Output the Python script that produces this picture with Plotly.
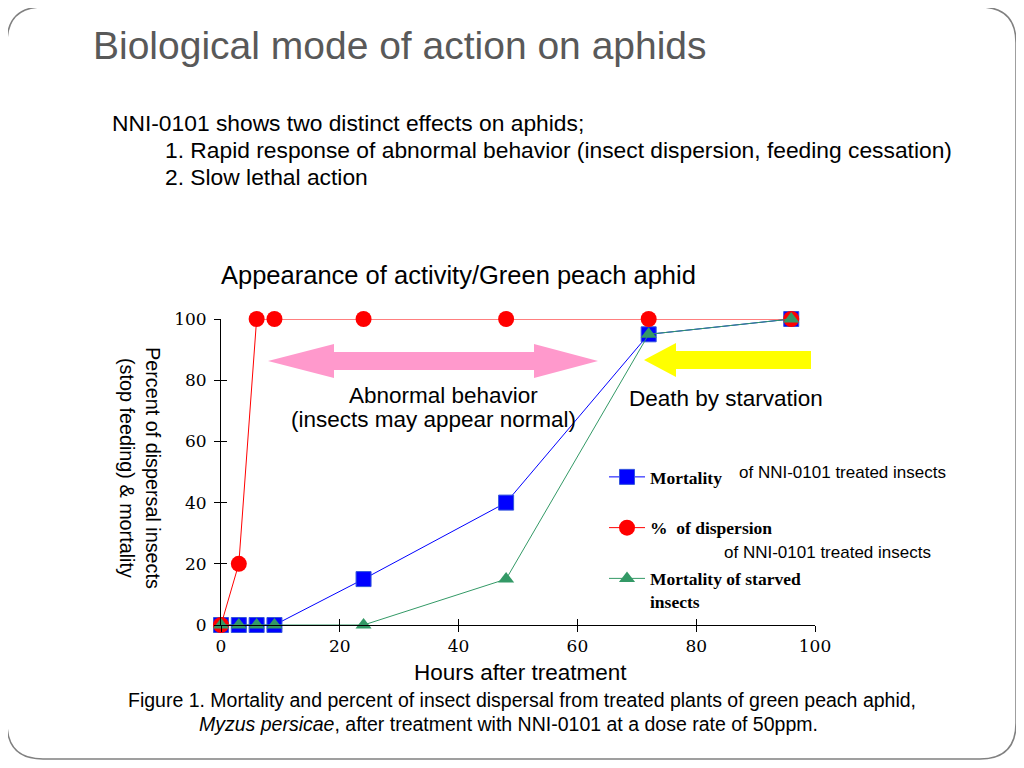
import plotly.graph_objects as go

# ---------------- data ----------------
hours = [0, 3, 6, 9, 24, 48, 72, 96]
mortality = [0, 0, 0, 0, 15, 40, 95, 100]
dispersion = [0, 20, 100, 100, 100, 100, 100, 100]
starved = [0, 0, 0, 0, 0, 15, 95, 100]
tick_vals = [0, 20, 40, 60, 80, 100]
series_names = ["<b>Mortality</b>", "<b>%  of dispersion</b>", "<b>Mortality of starved<br>insects</b>"]

OFF = 8  # page body margin in the browser
W, H = 1024 - OFF, 768 - OFF
L, R, T, B = 221, 815, 319, 625  # plot area in screenshot pixels


def xp(px):
    return (px - L) / (R - L)


def yp(py):
    return (B - py) / (B - T)


fig = go.Figure()

fig.add_trace(go.Scatter(
    x=hours, y=mortality, name=series_names[0], mode="lines+markers",
    line=dict(color="#0000FF", width=1),
    marker=dict(symbol="square", size=15, color="#0000FF", line=dict(color="#3355DD", width=1)),
    cliponaxis=False, legendgroup="a"))
fig.add_trace(go.Scatter(
    x=hours, y=dispersion, name=series_names[1], mode="lines+markers",
    line=dict(color="#FF0000", width=1),
    marker=dict(symbol="circle", size=16, color="#FF0000"),
    cliponaxis=False, legendgroup="b"))
fig.add_trace(go.Scatter(
    x=hours, y=starved, name=series_names[2], mode="lines+markers",
    line=dict(color="#339966", width=1),
    marker=dict(symbol="triangle-up", size=14, color="#339966"),
    cliponaxis=False, legendgroup="c"))
# invisible trace to activate overlay axes (for crossing tick marks)
fig.add_trace(go.Scatter(x=[0], y=[0], xaxis="x2", yaxis="y2", mode="markers",
                         marker=dict(opacity=0), showlegend=False, hoverinfo="skip"))

tickfont = dict(family="DejaVu Serif", size=17, color="black")
fig.update_layout(
    width=W, height=H,
    margin=dict(l=L - OFF, r=1024 - R, t=T - OFF, b=768 - B),
    paper_bgcolor="white", plot_bgcolor="white",
    showlegend=True,
    legend=dict(x=xp(604), y=yp(459), xanchor="left", yanchor="top",
                font=dict(family="Liberation Serif", size=17.5, color="black"),
                tracegroupgap=25, valign="top", itemwidth=36, bgcolor="rgba(0,0,0,0)"),
    xaxis=dict(range=[0, 100], tickvals=tick_vals, showline=True, linecolor="black", linewidth=1,
               ticks="outside", ticklen=6, tickcolor="black", showgrid=False, zeroline=False,
               tickfont=tickfont, fixedrange=True),
    yaxis=dict(range=[0, 100], tickvals=tick_vals, showline=True, linecolor="black", linewidth=1,
               ticks="outside", ticklen=6, tickcolor="black", showgrid=False, zeroline=False,
               tickfont=tickfont, ticklabelstandoff=4, fixedrange=True),
    xaxis2=dict(range=[0, 100], tickvals=tick_vals, overlaying="x", showline=False,
                ticks="inside", ticklen=6, tickcolor="black", showticklabels=False,
                showgrid=False, zeroline=False),
    yaxis2=dict(range=[0, 100], tickvals=tick_vals, overlaying="y", showline=False,
                ticks="inside", ticklen=6, tickcolor="black", showticklabels=False,
                showgrid=False, zeroline=False),
)

shapes = []

# slide frame (rounded rectangle)
x0, y0, x1, y1, r = 7, 7, 1016, 759, 36
pts = (f"M {xp(x0 + r)},{yp(y0)} L {xp(x1 - r)},{yp(y0)} Q {xp(x1)},{yp(y0)} {xp(x1)},{yp(y0 + r)} "
       f"L {xp(x1)},{yp(y1 - r)} Q {xp(x1)},{yp(y1)} {xp(x1 - r)},{yp(y1)} "
       f"L {xp(x0 + r)},{yp(y1)} Q {xp(x0)},{yp(y1)} {xp(x0)},{yp(y1 - r)} "
       f"L {xp(x0)},{yp(y0 + r)} Q {xp(x0)},{yp(y0)} {xp(x0 + r)},{yp(y0)} Z")
shapes.append(dict(type="path", xref="paper", yref="paper", path=pts,
                   line=dict(color="#808080", width=1.5), layer="below"))


def poly(points):
    s = "M " + " L ".join(f"{xp(a)},{yp(b)}" for a, b in points) + " Z"
    return s


# pink double arrow
pink = [(268, 361), (334, 344), (334, 352), (534, 352), (534, 344), (598, 361),
        (534, 378), (534, 370), (334, 370), (334, 378)]
shapes.append(dict(type="path", xref="paper", yref="paper", path=poly(pink),
                   fillcolor="#FF99CC", line=dict(width=0), layer="below"))
# yellow left arrow
yellow = [(644, 360), (676, 343), (676, 351), (811, 351), (811, 369), (676, 369), (676, 377)]
shapes.append(dict(type="path", xref="paper", yref="paper", path=poly(yellow),
                   fillcolor="#FFFF00", line=dict(width=0), layer="below"))

fig.update_layout(shapes=shapes)

sans = "Liberation Sans"
ann = []


def text(t, x, y, size, color="black", xanchor="center", family=sans, angle=0):
    ann.append(dict(text=t, x=xp(x), y=yp(y), xref="paper", yref="paper",
                    xanchor=xanchor, yanchor="middle", showarrow=False, textangle=angle,
                    font=dict(family=family, size=size, color=color)))


text("Biological mode of action on aphids", 91, 45, 39, color="#595959", xanchor="left")
text("NNI-0101 shows two distinct effects on aphids;", 110, 123, 22.8, xanchor="left")
text("1. Rapid response of abnormal behavior (insect dispersion, feeding cessation)", 163, 150, 22.8, xanchor="left")
text("2. Slow lethal action", 163, 177, 22.8, xanchor="left")
text("Appearance of activity/Green peach aphid", 458, 275, 25.5)
text("Abnormal behavior", 443, 395, 22.5)
text("(insects may appear normal)", 433, 419, 22.5)
text("Death by starvation", 726, 398, 22.5)
text("of NNI-0101 treated insects", 737, 472, 17, xanchor="left")
text("of NNI-0101 treated insects", 722, 552, 17, xanchor="left")
text("Percent of dispersal insects<br>(stop feeding) & mortality", 140, 468, 19.8, angle=90)
text("Hours after treatment", 520, 672, 22.5)
text("Figure 1. Mortality and percent of insect dispersal from treated plants of green peach aphid,", 522, 700, 19.5)
text("<i>Myzus persicae</i>, after treatment with NNI-0101 at a dose rate of 50ppm.", 508, 724, 19.5)

fig.update_layout(annotations=ann)

fig.write_html("out.html")
